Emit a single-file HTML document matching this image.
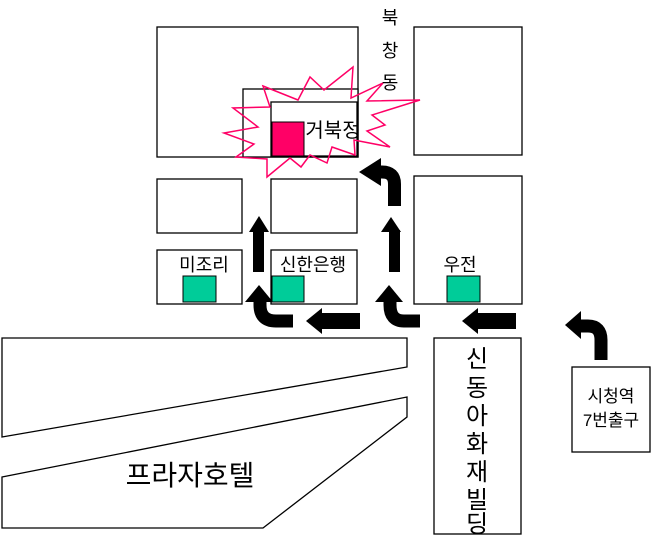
<!DOCTYPE html>
<html><head><meta charset="utf-8"><style>
html,body{margin:0;padding:0;background:#fff}
svg{display:block}
text{font-family:"Liberation Sans","Noto Sans CJK KR","NanumGothic",sans-serif;fill:#000}
</style></head><body>
<svg width="652" height="536" viewBox="0 0 652 536" xmlns="http://www.w3.org/2000/svg">
<g fill="#fff" stroke="#000" stroke-width="1.3">
<rect x="157" y="27" width="201" height="130"/>
<rect x="243" y="89" width="115" height="68"/>
<rect x="271" y="102" width="86" height="54"/>
<rect x="414" y="27" width="108" height="128"/>
<rect x="157" y="179" width="85" height="54"/>
<rect x="271" y="179" width="86" height="54"/>
<rect x="414" y="176" width="108" height="128"/>
<rect x="157" y="250" width="85" height="54"/>
<rect x="271" y="250" width="86" height="54"/>
<rect x="434" y="338" width="87" height="196"/>
<rect x="572" y="367" width="78" height="85"/>
<polygon points="2,338 407,338 407,367 2,437"/>
<polygon points="2,477 407,397 407,417 263,528 2,528"/>
</g>
<polygon fill="none" stroke="#ff0066" stroke-width="1.5" points="263,86 298,100 310,77 324,90 353,67 351,98 383,83 367,101 420,100 372,115 385,125 367,131 390,147 354,140 355,155 332,147 327,163 310,155 301,167 290,158 267,177 267,159 236,157 254,144 224,133 258,127 233,108 270,107"/>
<rect x="272" y="122" width="32" height="34" fill="#ff0066" stroke="#000" stroke-width="1"/>
<g fill="#00cc99" stroke="#000" stroke-width="1">
<rect x="183" y="276" width="33" height="26"/>
<rect x="272" y="276" width="32" height="26"/>
<rect x="447" y="276" width="33" height="26"/>
</g>
<g fill="none" stroke="#000" stroke-width="13">
<path d="M394.5,206 V184 Q394.5,172 382,172 H378"/>
<path d="M293,321 H276 Q260,321 260,305 V298"/>
<path d="M420,321 H404 Q390,321 390,305 V298"/>
<path d="M601,360 V340 Q601,326 588,326 H578"/>
</g>
<g fill="#000">
<polygon points="359,172 381,158 381,186"/>
<polygon points="259,285 245,302 273,302"/>
<polygon points="389,285 375,302 403,302"/>
<polygon points="565,325 581,311 581,339"/>
<polygon points="306,321 322,308 322,334"/><rect x="320" y="313" width="40" height="16"/>
<polygon points="462,321 478,308 478,334"/><rect x="476" y="313" width="40" height="16"/>
<polygon points="259,216 249,232 269,232"/><rect x="253" y="230" width="11" height="42"/>
<polygon points="391,217 381,232 401,232"/><rect x="389" y="230" width="11" height="42"/>
</g>
<g font-size="18" text-anchor="middle">
<text x="390" y="24">북</text>
<text x="390" y="57">창</text>
<text x="390" y="89">동</text>
<text x="333" y="137" font-size="20">거북정</text>
<text x="204" y="271">미조리</text>
<text x="313" y="271">신한은행</text>
<text x="460" y="271">우전</text>
<text x="611" y="402" font-size="17">시청역</text>
<text x="611" y="426" font-size="17">7번출구</text>
<text x="190" y="485" font-size="28">프라자호텔</text>
</g>
<g font-size="24" text-anchor="middle">
<text x="477" y="367">신</text>
<text x="477" y="396">동</text>
<text x="477" y="424">아</text>
<text x="477" y="452">화</text>
<text x="477" y="480">재</text>
<text x="477" y="508">빌</text>
<text x="477" y="532">딩</text>
</g>
</svg>
</body></html>
